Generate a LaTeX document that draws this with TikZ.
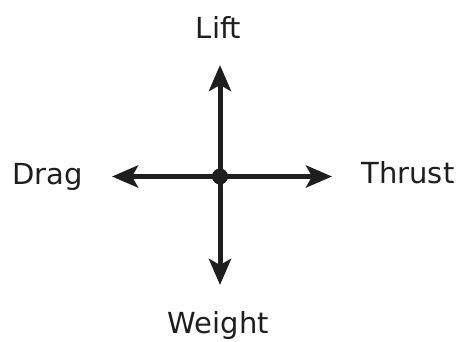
\documentclass[tikz,border=0pt]{standalone}
\usepackage{fontspec}
\setmainfont{DejaVu Sans}
\usetikzlibrary{arrows.meta}
\definecolor{ink}{HTML}{1E1E1E}
\tikzset{
  force/.style={line width=5pt, color=ink, -{Stealth[length=26pt,width=22pt,inset=6pt]}},
  lbl/.style={anchor=base, inner sep=0pt, text=ink, font=\fontsize{29}{35}\selectfont},
}
\begin{document}
\begin{tikzpicture}[x=1pt,y=-1pt]
\useasboundingbox (0,0) rectangle (461,341);
\coordinate (c) at (220,176.5);
\coordinate (up) at (220,65);
\coordinate (down) at (220,285);
\coordinate (left) at (112,176.5);
\coordinate (right) at (332,176.5);
\draw[force] (c) -- (up);
\draw[force] (c) -- (down);
\draw[force] (c) -- (left);
\draw[force] (c) -- (right);
\fill[ink] (c) circle (8pt);
\node[lbl] (lift) at (218.5,38) {Lift};
\node[lbl] (drag) at (47.5,184) {Drag};
\node[lbl] (thrust) at (408,183) {Thrust};
\node[lbl] (weight) at (218.5,333) {Weight};
\end{tikzpicture}
\end{document}
